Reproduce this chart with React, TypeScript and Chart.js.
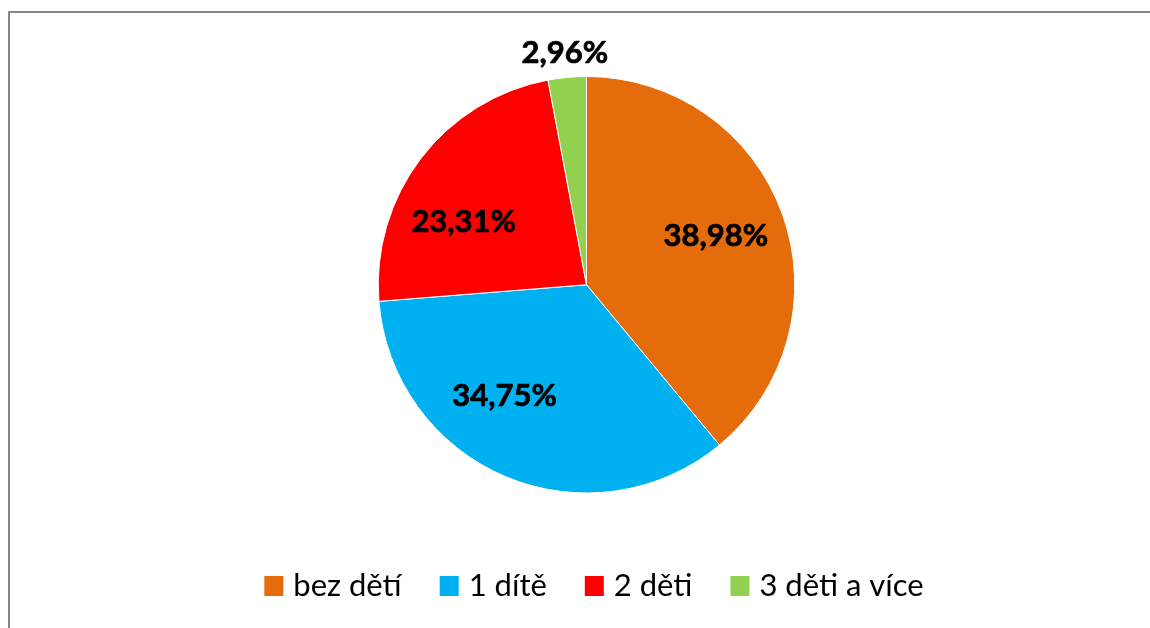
import React, { useEffect, useRef } from "react";
import { Chart, registerables } from "chart.js";

Chart.register(...registerables);

const categories = ["bez dětí", "1 dítě", "2 děti", "3 děti a více"];
const shares = [38.98, 34.75, 23.31, 2.96];
const shareLabels = ["38,98%", "34,75%", "23,31%", "2,96%"];

const sliceColors = ["#E46C0A", "#00B0F0", "#FF0000", "#92D050"];
// label placement tweaks (degrees shift from slice mid-angle, inside or outside the slice)
const labelAngleShift = [-0.7, 13.5, -10.2, 0];
const labelInside = [true, true, true, false];

const FONT = "Lato, 'Open Sans', sans-serif";

const framePlugin = {
  id: "frame",
  beforeDraw(chart: any) {
    const ctx = chart.ctx;
    ctx.save();
    ctx.fillStyle = "#ffffff";
    ctx.fillRect(0, 0, chart.width, chart.height);
    ctx.strokeStyle = "#878787";
    ctx.lineWidth = 2;
    ctx.beginPath();
    ctx.moveTo(9, chart.height + 2);
    ctx.lineTo(9, 12);
    ctx.lineTo(chart.width + 2, 12);
    ctx.stroke();
    ctx.restore();
  },
};

const labelPlugin = {
  id: "sliceLabels",
  afterDatasetsDraw(chart: any) {
    const ctx = chart.ctx;
    const meta = chart.getDatasetMeta(0);
    ctx.save();
    ctx.font = `bold 31px ${FONT}`;
    ctx.fillStyle = "#000000";
    ctx.strokeStyle = "#000000";
    ctx.lineWidth = 0.7;
    ctx.lineJoin = "round";
    ctx.textAlign = "center";
    ctx.textBaseline = "middle";
    meta.data.forEach((arc: any, i: number) => {
      const p = arc.getProps(["x", "y", "startAngle", "endAngle", "outerRadius"], true);
      const a = (p.startAngle + p.endAngle) / 2 + (labelAngleShift[i] * Math.PI) / 180;
      const r = labelInside[i] ? p.outerRadius * 0.663 : p.outerRadius + 25;
      const lx = p.x + Math.cos(a) * r;
      const ly = p.y + Math.sin(a) * r;
      ctx.fillText(shareLabels[i], lx, ly);
      ctx.strokeText(shareLabels[i], lx, ly);
    });
    ctx.restore();
  },
};

const legendPlugin = {
  id: "customLegend",
  afterDraw(chart: any) {
    const ctx = chart.ctx;
    const labels: string[] = chart.data.labels;
    const colors: string[] = chart.data.datasets[0].backgroundColor;
    ctx.save();
    ctx.font = `31px ${FONT}`;
    const boxW = 19;
    const boxH = 20;
    const gapText = 10;
    const gapItem = 38;
    const widths = labels.map((l) => ctx.measureText(l).width);
    const total =
      widths.reduce((s, w) => s + boxW + gapText + w, 0) + gapItem * (labels.length - 1);
    let x = 594 - total / 2;
    const boxTop = 576;
    const baseline = 595.5;
    labels.forEach((l, i) => {
      ctx.fillStyle = colors[i];
      ctx.fillRect(x, boxTop, boxW, boxH);
      x += boxW + gapText;
      ctx.fillStyle = "#000000";
      ctx.textBaseline = "alphabetic";
      ctx.textAlign = "left";
      ctx.fillText(l, x, baseline);
      x += widths[i] + gapItem;
    });
    ctx.restore();
  },
};

export default function App() {
  const ref = useRef<HTMLCanvasElement | null>(null);
  useEffect(() => {
    if (!ref.current) return;
    const chart = new Chart(ref.current, {
      type: "pie",
      data: {
        labels: categories,
        datasets: [
          {
            data: shares,
            backgroundColor: sliceColors,
            borderColor: "#ffffff",
            borderWidth: 1,
          },
        ],
      },
      options: {
        responsive: false,
        animation: false,
        devicePixelRatio: 1,
        layout: { padding: { top: 76, bottom: 134.5, left: 23, right: 0 } },
        plugins: {
          legend: { display: false },
          tooltip: { enabled: false },
          title: { display: false },
        },
      },
      plugins: [framePlugin, labelPlugin, legendPlugin],
    });
    return () => chart.destroy();
  }, []);
  return (
    <div style={{ position: "fixed", left: 0, top: 0, width: 1150, height: 628, background: "#fff" }}>
      <canvas ref={ref} width={1150} height={628} style={{ width: 1150, height: 628, display: "block" }} />
    </div>
  );
}
